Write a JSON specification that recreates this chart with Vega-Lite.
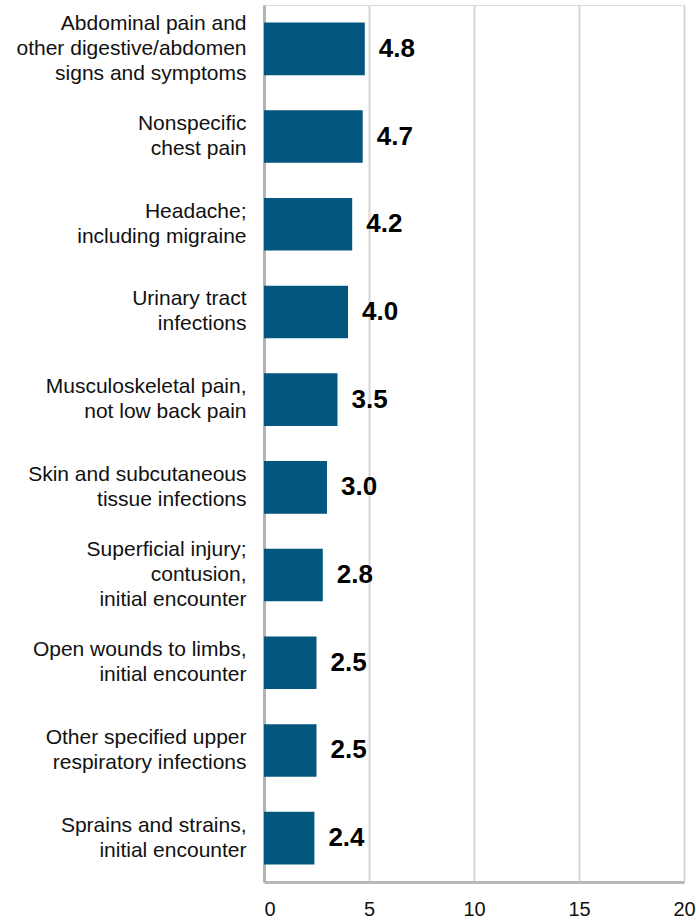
{
  "$schema": "https://vega.github.io/schema/vega-lite/v6.json",
  "autosize": {"type": "none"},
  "padding": {"left": 264, "top": 5, "right": 12, "bottom": 39},
  "width": 420,
  "height": 877,
  "background": "white",
  "data": {
    "values": [
      {"condition": "Abdominal pain and|other digestive/abdomen|signs and symptoms", "rate": 4.8},
      {"condition": "Nonspecific|chest pain", "rate": 4.7},
      {"condition": "Headache;|including migraine", "rate": 4.2},
      {"condition": "Urinary tract|infections", "rate": 4.0},
      {"condition": "Musculoskeletal pain,|not low back pain", "rate": 3.5},
      {"condition": "Skin and subcutaneous|tissue infections", "rate": 3.0},
      {"condition": "Superficial injury;|contusion,|initial encounter", "rate": 2.8},
      {"condition": "Open wounds to limbs,|initial encounter", "rate": 2.5},
      {"condition": "Other specified upper|respiratory infections", "rate": 2.5},
      {"condition": "Sprains and strains,|initial encounter", "rate": 2.4}
    ]
  },
  "encoding": {
    "y": {
      "field": "condition",
      "type": "nominal",
      "sort": null,
      "title": null,
      "scale": {"paddingInner": 0.4, "paddingOuter": 0.2},
      "axis": {
        "labelExpr": "split(datum.label, '|')",
        "labelFont": "Liberation Sans",
        "labelFontSize": 21,
        "labelLineHeight": 25,
        "labelColor": "#111111",
        "labelPadding": 18,
        "labelLimit": 300,
        "labelOffset": {"condition": {"test": "length(split(datum.value, '|')) == 3", "value": -25}, "value": -12.5},
        "ticks": false,
        "domainColor": "#b3b3b3",
        "domainWidth": 3,
        "grid": false
      }
    },
    "x": {
      "field": "rate",
      "type": "quantitative",
      "title": null,
      "scale": {"domain": [0, 20], "nice": false},
      "axis": {
        "values": [0, 5, 10, 15, 20],
        "labelFont": "Liberation Sans",
        "labelFontSize": 20,
        "labelColor": "#111111",
        "labelPadding": 17,
        "labelFlush": false,
        "labelAlign": {"condition": {"test": "datum.value == 0", "value": "left"}, "value": "center"},
        "ticks": false,
        "domainColor": "#b8b8b8",
        "domainWidth": 3,
        "grid": true,
        "gridColor": "#d6d6d6",
        "gridWidth": 2
      }
    }
  },
  "layer": [
    {"mark": {"type": "bar", "color": "#03577f"}},
    {
      "mark": {
        "type": "text",
        "align": "left",
        "baseline": "middle",
        "dx": 14,
        "font": "Liberation Sans",
        "fontWeight": "bold",
        "fontSize": 26,
        "color": "#000000"
      },
      "encoding": {
        "text": {"field": "rate", "type": "quantitative", "format": ".1f"}
      }
    }
  ]
}
